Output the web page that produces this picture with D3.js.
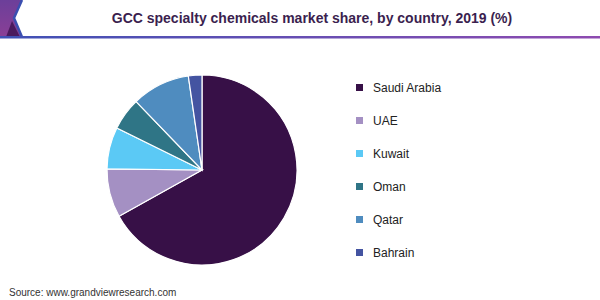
<!DOCTYPE html>
<html>
<head>
<meta charset="utf-8">
<script src="https://cdn.jsdelivr.net/npm/d3@7"></script>
<style>
  body { margin: 0; background: #fff; }
  svg { display: block; font-family: "Liberation Sans", Arial, sans-serif; }
</style>
</head>
<body>
<svg id="chart" width="600" height="300"></svg>
<script>
// data (share %, 2019)
let countries = ['Saudi Arabia', 'UAE', 'Kuwait', 'Oman', 'Qatar', 'Bahrain'];
let shares = [66.9, 8.3, 7.1, 5.5, 9.9, 2.3];
let colors = ['#371047', '#a490c3', '#5bc9f5', '#2f7586', '#4f8cbf', '#4454a1'];

let svg = d3.select('#chart');

// header band
let defs = svg.append('defs');
let lg = defs.append('linearGradient').attr('id', 'rule').attr('x1', '0%').attr('x2', '100%');
lg.append('stop').attr('offset', '0%').attr('stop-color', '#3f51b5');
lg.append('stop').attr('offset', '100%').attr('stop-color', '#8e4bb0');
let pg = defs.append('linearGradient').attr('id', 'corner').attr('x1', '0%').attr('y1', '0%').attr('x2', '0%').attr('y2', '100%');
pg.append('stop').attr('offset', '0%').attr('stop-color', '#6c3f9a');
pg.append('stop').attr('offset', '100%').attr('stop-color', '#8a3f96');

svg.append('path').attr('d', 'M0,0 L22,0 L14,18 L22,37 L0,37 Z').attr('fill', 'url(#corner)');
svg.append('path').attr('d', 'M12,21 L6,37 L20,37 Z').attr('fill', '#4a1a5e');
svg.append('path').attr('d', 'M22,0 L14,18 L22,37').attr('fill', 'none').attr('stroke', '#3a4fb0').attr('stroke-width', 2.5);
svg.append('rect').attr('x', 0).attr('y', 36).attr('width', 600).attr('height', 2.5).attr('fill', 'url(#rule)');

svg.append('text')
  .attr('x', 312).attr('y', 23)
  .attr('text-anchor', 'middle')
  .attr('font-size', 14).attr('font-weight', 'bold')
  .attr('fill', '#3b1f4f')
  .text('GCC specialty chemicals market share, by country, 2019 (%)');

// pie
let cx = 202, cy = 170, r = 95;
let pie = d3.pie().sort(null).value(d => d);
let arc = d3.arc().innerRadius(0).outerRadius(r);
let color = d3.scaleOrdinal().domain(countries).range(colors);

svg.append('g')
  .attr('transform', `translate(${cx},${cy})`)
  .selectAll('path')
  .data(pie(shares))
  .join('path')
  .attr('d', arc)
  .attr('fill', (d, i) => color(countries[i]))
  .attr('stroke', '#fff')
  .attr('stroke-width', 1.2);

// legend
let ly = d3.scalePoint().domain(countries).range([87.5, 252.5]);
let legend = svg.append('g')
  .selectAll('g')
  .data(countries)
  .join('g')
  .attr('transform', d => `translate(356,${ly(d)})`);

legend.append('rect')
  .attr('x', 0).attr('y', -3.5)
  .attr('width', 7).attr('height', 7)
  .attr('fill', d => color(d));

legend.append('text')
  .attr('x', 17).attr('y', 4.5)
  .attr('font-size', 12)
  .attr('fill', '#222')
  .text(d => d);

svg.append('text')
  .attr('x', 9).attr('y', 296)
  .attr('font-size', 10)
  .attr('fill', '#333')
  .text('Source: www.grandviewresearch.com');
</script>
</body>
</html>
